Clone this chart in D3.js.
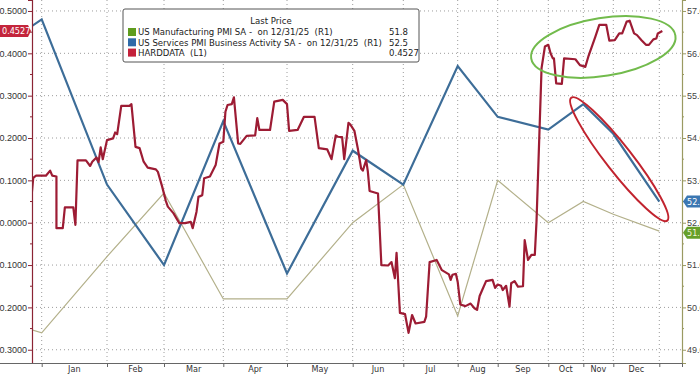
<!DOCTYPE html>
<html>
<head>
<meta charset="utf-8">
<script src="https://cdn.jsdelivr.net/npm/d3@7"></script>
<style>
  html, body { margin: 0; padding: 0; background: #fff; }
  svg { display: block; font-family: "DejaVu Sans Condensed", "DejaVu Sans", sans-serif; }
</style>
</head>
<body>
<div id="chart"></div>
<script>
// month-end dates (PMI observations are plotted at month end)
const pmiDates = ["2024-11-30", "2024-12-31", "2025-01-31", "2025-02-28", "2025-03-31", "2025-04-30",
  "2025-05-31", "2025-06-30", "2025-07-31", "2025-08-31", "2025-09-30", "2025-10-31", "2025-11-30", "2025-12-31"];
const servicesPmi = [56.1, 56.8, 52.9, 51.0, 54.4, 50.8, 53.7, 52.9, 55.7, 54.5, 54.2, 54.8, 54.1, 52.5];
const manufPmi = [49.7, 49.4, 51.2, 52.7, 50.2, 50.2, 52.0, 52.9, 49.8, 53.0, 52.0, 52.5, 52.2, 51.8];

const monthNames = ["Jan", "Feb", "Mar", "Apr", "May", "Jun", "Jul", "Aug", "Sep", "Oct", "Nov", "Dec"];
const leftTicks = [-0.3, -0.2, -0.1, 0, 0.1, 0.2, 0.3, 0.4, 0.5];
const rightTicks = [49, 50, 51, 52, 53, 54, 55, 56, 57];

// HARDDATA (L1)
const hardData = [
  ["2024-12-24",0.070],["2024-12-25",0.106],["2024-12-27",0.111],["2025-01-02",0.111],["2025-01-04",0.123],
  ["2025-01-05",0.111],["2025-01-07",0.109],["2025-01-07",-0.013],["2025-01-10",-0.013],["2025-01-11",0.036],
  ["2025-01-15",0.036],["2025-01-16",-0.005],["2025-01-17",0.147],["2025-01-21",0.147],["2025-01-23",0.134],
  ["2025-01-24",0.144],["2025-01-26",0.154],["2025-01-27",0.143],["2025-01-28",0.178],["2025-01-29",0.150],
  ["2025-01-31",0.195],["2025-02-03",0.199],["2025-02-04",0.213],["2025-02-05",0.209],["2025-02-07",0.276],
  ["2025-02-11",0.276],["2025-02-12",0.280],["2025-02-14",0.179],["2025-02-16",0.176],["2025-02-18",0.144],
  ["2025-02-20",0.130],["2025-02-24",0.126],["2025-02-25",0.120],["2025-02-27",0.087],["2025-03-01",0.051],
  ["2025-03-02",0.038],["2025-03-05",0.022],["2025-03-08",-0.001],["2025-03-11",-0.001],["2025-03-14",0.002],
  ["2025-03-15",-0.013],["2025-03-17",0.026],["2025-03-18",0.061],["2025-03-20",0.065],["2025-03-21",0.105],
  ["2025-03-24",0.109],["2025-03-27",0.136],["2025-03-29",0.187],["2025-03-31",0.191],["2025-04-01",0.262],
  ["2025-04-02",0.278],["2025-04-04",0.280],["2025-04-05",0.296],["2025-04-07",0.187],["2025-04-08",0.186],
  ["2025-04-11",0.205],["2025-04-15",0.206],["2025-04-16",0.247],["2025-04-17",0.219],["2025-04-22",0.219],
  ["2025-04-24",0.286],["2025-04-28",0.290],["2025-04-30",0.280],["2025-05-01",0.217],["2025-05-05",0.219],
  ["2025-05-08",0.250],["2025-05-13",0.250],["2025-05-15",0.176],["2025-05-19",0.173],["2025-05-21",0.150],
  ["2025-05-23",0.206],["2025-05-24",0.203],["2025-05-26",0.202],["2025-05-27",0.150],["2025-05-29",0.236],
  ["2025-05-30",0.231],["2025-06-01",0.217],["2025-06-03",0.176],["2025-06-05",0.128],["2025-06-06",0.123],
  ["2025-06-08",0.148],["2025-06-09",0.120],["2025-06-10",0.075],["2025-06-15",0.069],["2025-06-17",-0.100],
  ["2025-06-21",-0.101],["2025-06-23",-0.093],["2025-06-25",-0.131],["2025-06-26",-0.071],["2025-06-28",-0.213],
  ["2025-07-01",-0.216],["2025-07-03",-0.260],["2025-07-05",-0.218],["2025-07-07",-0.238],["2025-07-12",-0.234],
  ["2025-07-13",-0.222],["2025-07-15",-0.093],["2025-07-19",-0.088],["2025-07-22",-0.112],["2025-07-26",-0.122],
  ["2025-07-27",-0.135],["2025-07-28",-0.123],["2025-07-30",-0.121],["2025-07-31",-0.140],["2025-08-02",-0.193],
  ["2025-08-06",-0.197],["2025-08-10",-0.191],["2025-08-13",-0.202],["2025-08-15",-0.206],["2025-08-17",-0.173],
  ["2025-08-19",-0.159],["2025-08-22",-0.138],["2025-08-27",-0.135],["2025-08-29",-0.154],["2025-08-31",-0.146],
  ["2025-09-02",-0.149],["2025-09-03",-0.159],["2025-09-05",-0.149],["2025-09-07",-0.198],["2025-09-08",-0.143],
  ["2025-09-10",-0.138],["2025-09-12",-0.151],["2025-09-15",-0.150],["2025-09-16",-0.041],["2025-09-18",-0.088],
  ["2025-09-20",-0.076],["2025-09-22",-0.076],["2025-09-23",0.002],["2025-09-26",0.365],["2025-09-28",0.416],
  ["2025-09-30",0.420],["2025-10-02",0.400],["2025-10-04",0.388],["2025-10-05",0.388],["2025-10-07",0.329],
  ["2025-10-12",0.328],["2025-10-14",0.388],["2025-10-24",0.386],["2025-10-28",0.372],["2025-11-02",0.368],
  ["2025-11-05",0.392],["2025-11-12",0.439],["2025-11-16",0.467],["2025-11-23",0.467],["2025-11-26",0.430],
  ["2025-12-01",0.431],["2025-12-04",0.447],["2025-12-06",0.447],["2025-12-09",0.475],["2025-12-11",0.477],
  ["2025-12-14",0.447],["2025-12-16",0.443],["2025-12-19",0.431],["2025-12-22",0.420],["2025-12-24",0.420],
  ["2025-12-27",0.433],["2025-12-29",0.435],["2025-12-30",0.447],["2026-01-02",0.4527]
];

const W = 700, H = 375;
const margin = { top: 0, right: 18, bottom: 12, left: 32 };
const innerW = W - margin.left - margin.right;
const innerH = H - margin.top - margin.bottom;

const parse = d3.timeParse("%Y-%m-%d");

// Bloomberg's time axis is not linear: every month gets its own width
const axisDates = [...pmiDates, "2026-01-15"].map(parse);
const axisX = [-34, 9.7, 75, 132, 191.3, 255, 320.7, 371.3, 425.7, 465.7, 516.3, 551.3, 581.3, 627.3, 650];
const x = d3.scaleTime().domain(axisDates).range(axisX);

const yL = d3.scaleLinear().domain([-0.3313, 0.5259]).range([innerH, 0]);
const yR = d3.scaleLinear().domain([48.687, 57.259]).range([innerH, 0]);

const svg = d3.select("#chart").append("svg")
  .attr("width", W).attr("height", H);
svg.append("rect").attr("width", W).attr("height", H).attr("fill", "#fff");

svg.append("defs").append("clipPath").attr("id", "plotclip")
  .append("rect").attr("width", innerW).attr("height", innerH);

const g = svg.append("g").attr("transform", `translate(${margin.left},${margin.top})`);

// grid
const monthEnds = pmiDates.slice(1).map(parse);
g.append("g").selectAll("line").data(leftTicks).join("line")
  .attr("x1", 0).attr("x2", innerW)
  .attr("y1", d => yL(d)).attr("y2", d => yL(d))
  .attr("stroke", "#9c9c9c").attr("stroke-dasharray", "1,3");
g.append("g").selectAll("line").data(monthEnds).join("line")
  .attr("x1", d => x(d)).attr("x2", d => x(d))
  .attr("y1", 0).attr("y2", innerH)
  .attr("stroke", "#9c9c9c").attr("stroke-dasharray", "1,3");

// lines
const plot = g.append("g").attr("clip-path", "url(#plotclip)");
const pmiLine = vals => d3.line().x((d, i) => x(parse(pmiDates[i]))).y(d => yR(d))(vals);

plot.append("path").attr("d", pmiLine(manufPmi))
  .attr("fill", "none").attr("stroke", "#b3b08a").attr("stroke-width", 1.2);
plot.append("path").attr("d", pmiLine(servicesPmi))
  .attr("fill", "none").attr("stroke", "#3d6d98").attr("stroke-width", 2.2);
plot.append("path")
  .attr("d", d3.line().x(d => x(parse(d[0]))).y(d => yL(d[1]))(hardData))
  .attr("fill", "none").attr("stroke", "#9d1c34").attr("stroke-width", 2.2)
  .attr("stroke-linejoin", "round");

// annotation ellipses
g.append("ellipse")
  .attr("transform", `translate(${x(parse("2025-11-20"))},${yL(0.415)}) rotate(-9)`)
  .attr("rx", 73).attr("ry", 29)
  .attr("fill", "none").attr("stroke", "#72bb4c").attr("stroke-width", 2);
g.append("ellipse")
  .attr("transform", `translate(${x(parse("2025-12-04"))},${yR(53.5)}) rotate(52)`)
  .attr("rx", 78).attr("ry", 13)
  .attr("fill", "none").attr("stroke", "#c1232e").attr("stroke-width", 2);

// axes
const fmt = d3.format(".4f");
const leftAxis = g.append("g")
  .call(d3.axisLeft(yL).tickValues(leftTicks).tickFormat(fmt).tickSize(4).tickPadding(1));
leftAxis.select(".domain").attr("stroke", "#8b2434").attr("stroke-width", 1.2);
leftAxis.selectAll(".tick line").attr("stroke", "#8b2434");
leftAxis.selectAll("text").attr("fill", "#333").attr("font-size", 9);
g.append("g").selectAll("line").data(leftTicks.slice(0, -1).map(d => d + 0.05)).join("line")
  .attr("x1", -2).attr("x2", 0).attr("y1", d => yL(d)).attr("y2", d => yL(d))
  .attr("stroke", "#8b2434");

const rightAxis = g.append("g").attr("transform", `translate(${innerW},0)`)
  .call(d3.axisRight(yR).tickValues(rightTicks).tickFormat(fmt).tickSize(4).tickPadding(1));
rightAxis.select(".domain").attr("stroke", "#9a9a62").attr("stroke-width", 1.2);
rightAxis.selectAll(".tick line").attr("stroke", "#9a9a62");
rightAxis.selectAll("text").attr("fill", "#444").attr("font-size", 9);
g.append("g").selectAll("line").data(rightTicks.slice(0, -1).map(d => d + 0.5)).join("line")
  .attr("x1", innerW).attr("x2", innerW + 2).attr("y1", d => yR(d)).attr("y2", d => yR(d))
  .attr("stroke", "#9a9a62");

const bottomAxis = g.append("g").attr("transform", `translate(0,${innerH})`)
  .call(d3.axisBottom(x).tickValues(monthEnds).tickFormat("").tickSize(4));
bottomAxis.select(".domain").attr("stroke", "#666");
bottomAxis.selectAll(".tick line").attr("stroke", "#666");

// month labels centred between month ends
g.append("g").selectAll("text").data(monthNames).join("text")
  .attr("x", (d, i) => (x(monthEnds[i]) + x(monthEnds[i + 1])) / 2)
  .attr("y", innerH + 9)
  .attr("text-anchor", "middle")
  .attr("font-size", 9).attr("fill", "#333")
  .text(d => d);

// last-value badges
function badge(side, yPos, fill, label, textFill) {
  const h = 12;
  const bg = svg.append("g").attr("transform", `translate(0,${margin.top + yPos})`);
  if (side === "left") {
    bg.append("path")
      .attr("d", `M-4,${-h / 2}H28L${margin.left - 1},0L28,${h / 2}H-4Z`).attr("fill", fill);
    bg.append("text").attr("x", 2).attr("dy", "0.35em").attr("font-size", 9)
      .attr("fill", textFill).text(label);
  } else {
    const x0 = margin.left + innerW + 1;
    bg.append("path")
      .attr("d", `M${x0},0L${x0 + 4},${-h / 2}H${W + 4}V${h / 2}H${x0 + 4}Z`).attr("fill", fill);
    bg.append("text").attr("x", x0 + 4).attr("dy", "0.35em").attr("font-size", 9)
      .attr("fill", textFill).text(label);
  }
}
badge("left", yL(hardData[hardData.length - 1][1]), "#c4253c", "0.4527", "#fff");
badge("right", yR(servicesPmi[servicesPmi.length - 1]), "#3b77b2", "52.5", "#fff");
badge("right", yR(manufPmi[manufPmi.length - 1]) + 1.5, "#67a02a", "51.8", "#f4f4dc");

// legend
const legend = svg.append("g").attr("transform", "translate(123,9)");
legend.append("rect").attr("width", 296).attr("height", 53).attr("rx", 2)
  .attr("fill", "#fff").attr("stroke", "#555");
legend.append("text").attr("x", 148).attr("y", 15).attr("text-anchor", "middle")
  .attr("font-size", 9.5).attr("fill", "#222").text("Last Price");
const legendRows = [
  { color: "#5f9c1e", label: "US Manufacturing PMI SA -  on 12/31/25  (R1)", value: "51.8" },
  { color: "#2f6aa8", label: "US Services PMI Business Activity SA -  on 12/31/25  (R1)", value: "52.5" },
  { color: "#c4213a", label: "HARDDATA  (L1)", value: "0.4527" }
];
const rows = legend.selectAll(".row").data(legendRows).join("g")
  .attr("transform", (d, i) => `translate(0,${23 + i * 10.3})`);
rows.append("rect").attr("x", 5).attr("y", -4).attr("width", 8).attr("height", 8)
  .attr("fill", d => d.color);
rows.append("text").attr("x", 15).attr("dy", "0.35em").attr("font-size", 9.5)
  .attr("fill", "#222").style("white-space", "pre").text(d => d.label);
rows.append("text").attr("x", 266).attr("dy", "0.35em").attr("font-size", 9.5)
  .attr("fill", "#222").text(d => d.value);
</script>
</body>
</html>
